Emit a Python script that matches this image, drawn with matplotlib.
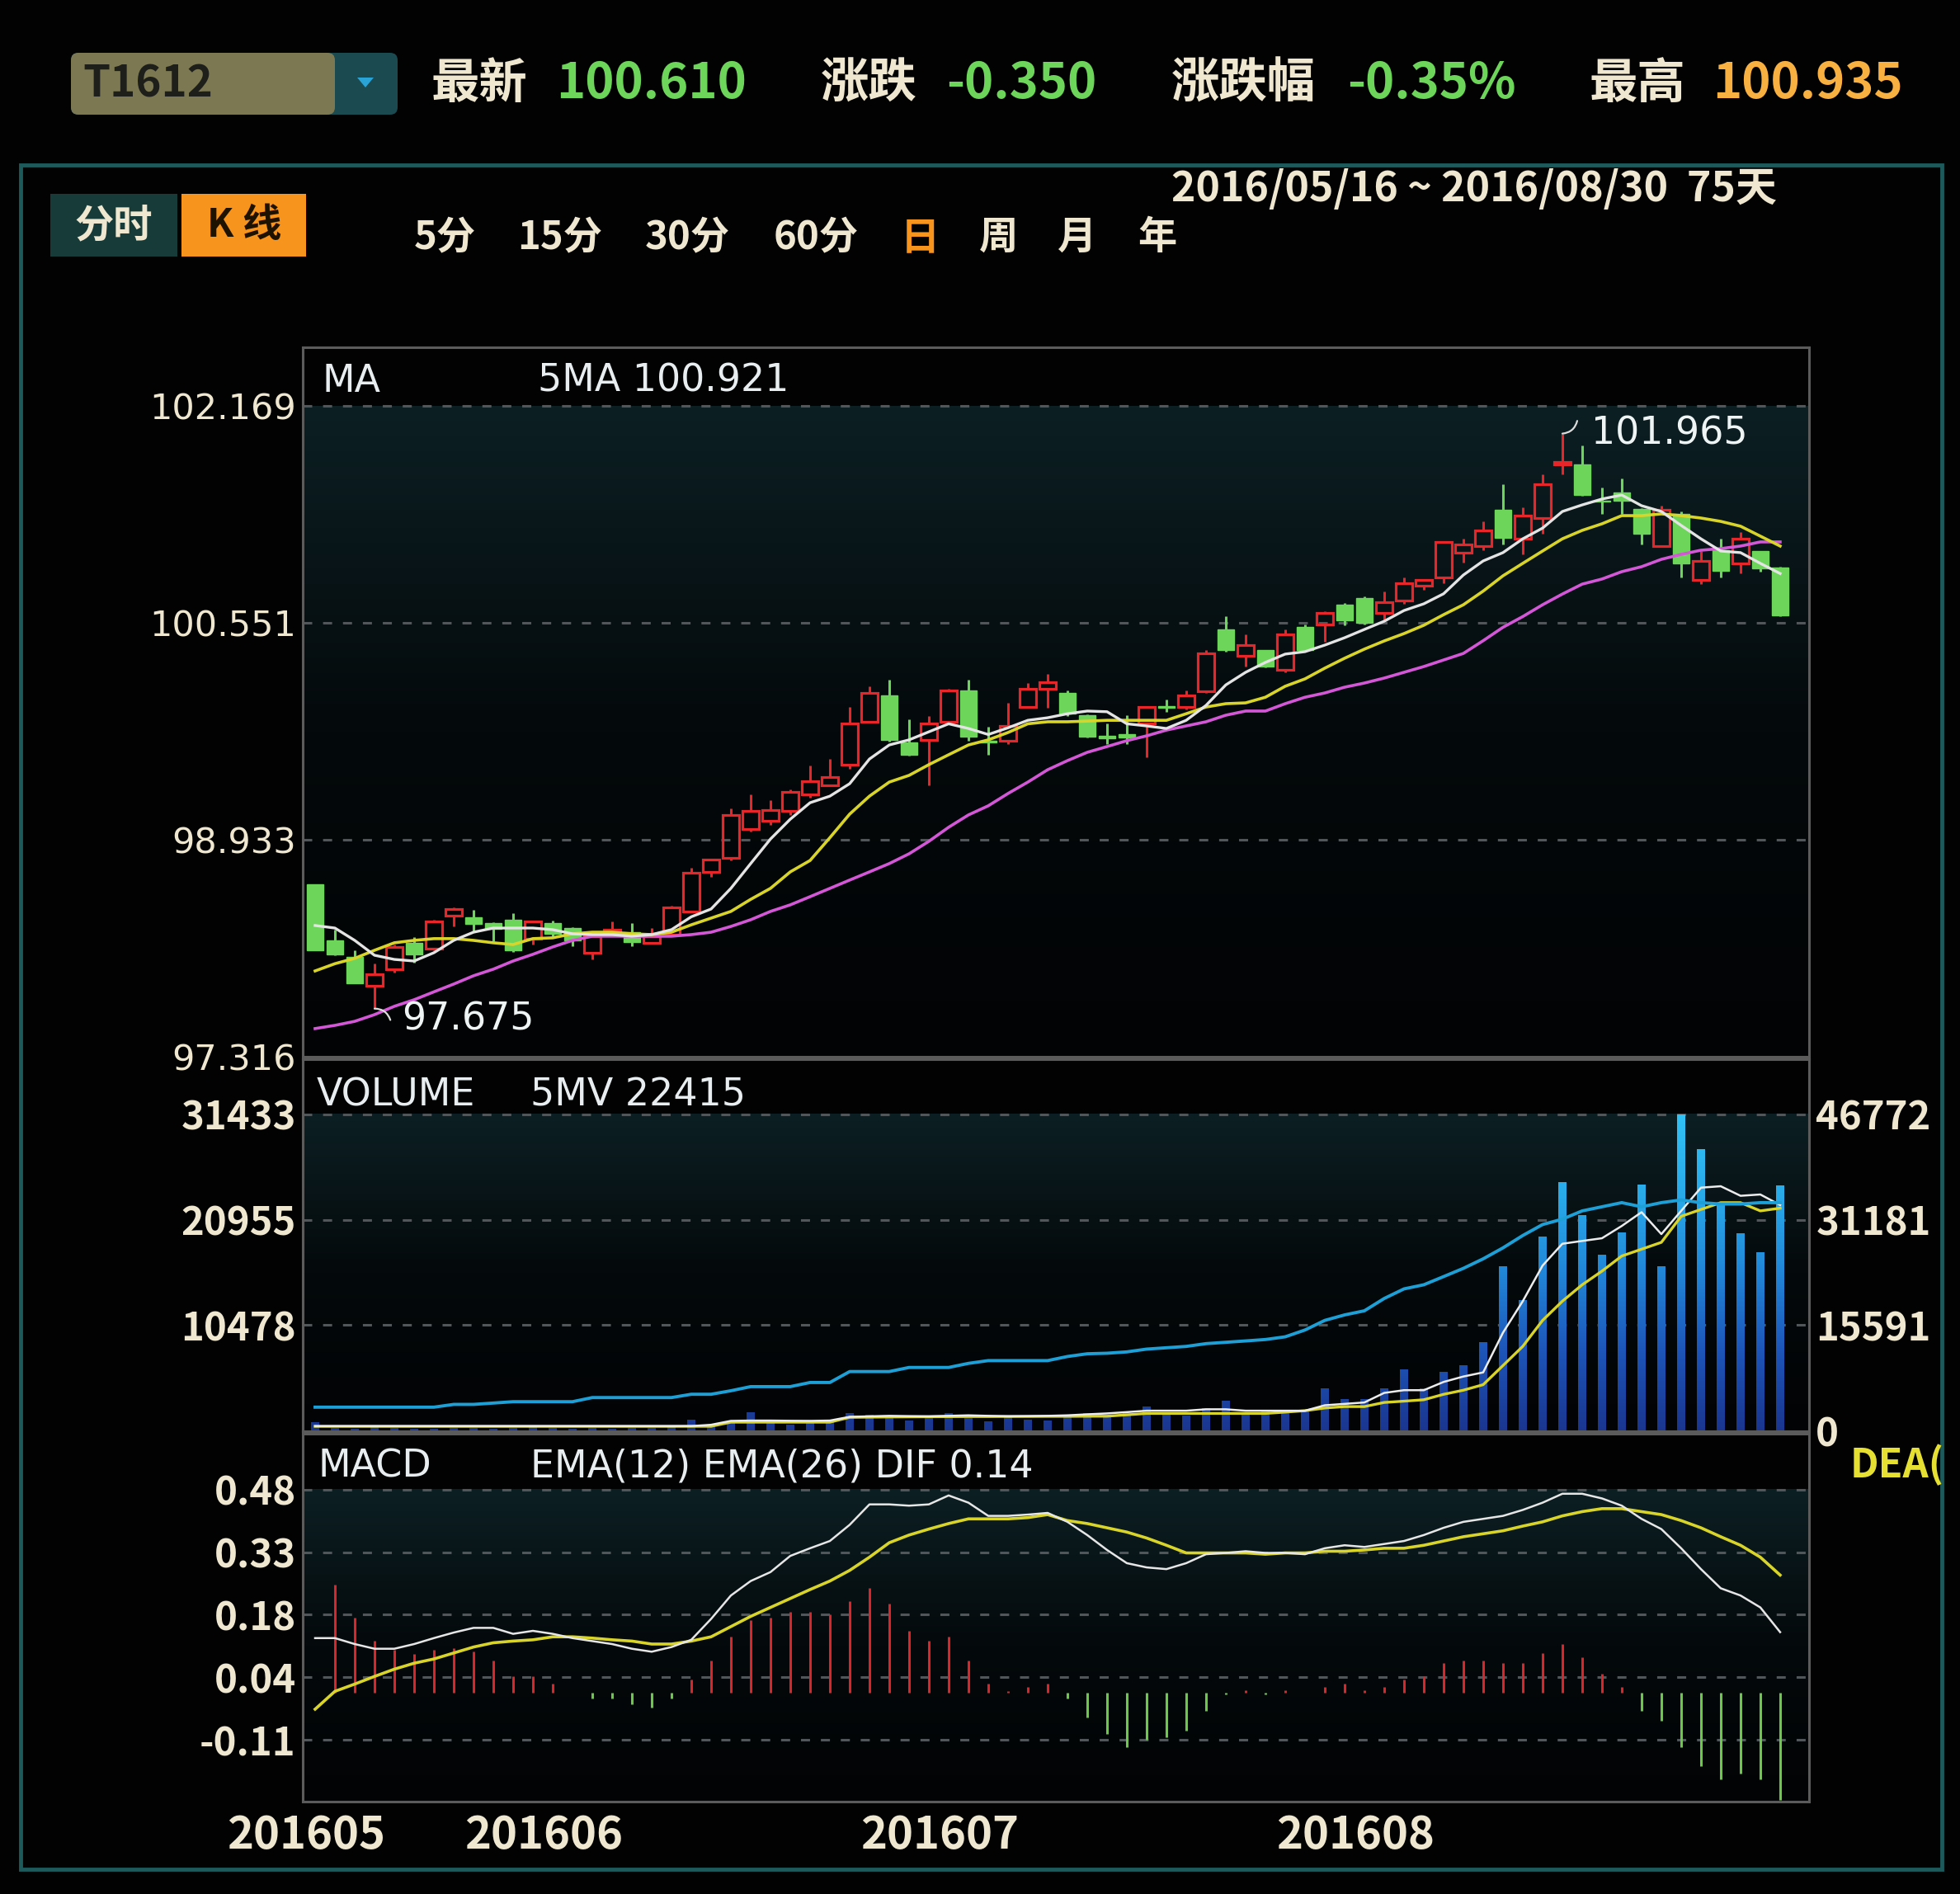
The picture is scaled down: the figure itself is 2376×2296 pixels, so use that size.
import numpy as np
import matplotlib
matplotlib.use("Agg")
import matplotlib.pyplot as plt
from matplotlib.patches import Rectangle, FancyBboxPatch, Polygon
from matplotlib.path import Path
from matplotlib.colors import LinearSegmentedColormap

plt.rcParams["font.family"] = ["Noto Sans CJK SC", "DejaVu Sans"]

# ---------------- data ----------------
open_ = [98.603, 98.184, 98.061, 97.846, 97.969, 98.166, 98.123, 98.369, 98.357, 98.310,
         98.338, 98.197, 98.310, 98.277, 98.092, 98.234, 98.246, 98.166, 98.227, 98.400,
         98.695, 98.800, 99.015, 99.077, 99.150, 99.274, 99.340, 99.495, 99.815, 100.012,
         99.661, 99.680, 99.815, 100.050, 99.674, 99.674, 99.925, 100.061, 100.030, 99.864,
         99.710, 99.720, 99.800, 99.930, 99.925, 100.043, 100.504, 100.306, 100.350, 100.200,
         100.520, 100.540, 100.690, 100.740, 100.627, 100.720, 100.830, 100.890, 101.077, 101.126,
         101.397, 101.180, 101.335, 101.735, 101.735, 101.464, 101.526, 101.403, 101.126, 101.366,
         100.874, 101.095, 100.997, 101.089, 100.966]
high = [98.603, 98.265, 98.110, 98.012, 98.150, 98.210, 98.340, 98.430, 98.412, 98.320,
        98.387, 98.330, 98.330, 98.280, 98.220, 98.326, 98.310, 98.277, 98.440, 98.726,
        98.790, 99.170, 99.274, 99.230, 99.310, 99.490, 99.540, 99.926, 100.080, 100.130,
        99.833, 99.858, 100.060, 100.130, 99.780, 99.957, 100.105, 100.170, 100.050, 99.870,
        99.800, 99.864, 99.930, 99.980, 100.050, 100.350, 100.600, 100.470, 100.350, 100.504,
        100.540, 100.640, 100.700, 100.750, 100.788, 100.890, 100.880, 101.160, 101.180, 101.310,
        101.587, 101.415, 101.661, 101.965, 101.876, 101.560, 101.630, 101.410, 101.427, 101.384,
        101.089, 101.180, 101.230, 101.090, 100.970]
low = [98.111, 98.074, 97.864, 97.675, 97.945, 98.020, 98.110, 98.290, 98.246, 98.180,
       98.100, 98.150, 98.215, 98.140, 98.040, 98.220, 98.140, 98.160, 98.220, 98.390,
       98.660, 98.780, 98.997, 99.046, 99.120, 99.250, 99.335, 99.465, 99.810, 99.670,
       99.560, 99.340, 99.800, 99.674, 99.569, 99.650, 99.920, 99.920, 99.860, 99.700,
       99.650, 99.650, 99.550, 99.890, 99.910, 100.030, 100.340, 100.230, 100.220, 100.185,
       100.340, 100.410, 100.535, 100.540, 100.566, 100.695, 100.800, 100.850, 101.003, 101.095,
       101.138, 101.064, 101.218, 101.661, 101.500, 101.366, 101.366, 101.138, 101.120, 100.890,
       100.843, 100.890, 100.920, 100.935, 100.603]
close = [98.111, 98.080, 97.864, 97.932, 98.135, 98.080, 98.326, 98.418, 98.308, 98.270,
         98.110, 98.326, 98.234, 98.184, 98.215, 98.264, 98.170, 98.215, 98.430, 98.689,
         98.787, 99.120, 99.150, 99.157, 99.292, 99.372, 99.403, 99.803, 100.030, 99.680,
         99.569, 99.800, 100.050, 99.705, 99.660, 99.784, 100.061, 100.110, 99.877, 99.705,
         99.690, 99.700, 99.925, 99.920, 100.010, 100.325, 100.350, 100.387, 100.230, 100.470,
         100.350, 100.630, 100.572, 100.553, 100.710, 100.850, 100.874, 101.157, 101.138, 101.244,
         101.187, 101.354, 101.587, 101.753, 101.507, 101.458, 101.464, 101.218, 101.397, 100.997,
         101.015, 100.940, 101.180, 100.960, 100.610]
ma5 = [98.295, 98.276, 98.184, 98.073, 98.042, 98.030, 98.092, 98.184, 98.245, 98.276,
       98.276, 98.276, 98.264, 98.233, 98.227, 98.227, 98.215, 98.227, 98.264, 98.360,
       98.418, 98.572, 98.757, 98.940, 99.088, 99.211, 99.260, 99.353, 99.537, 99.642,
       99.680, 99.740, 99.800, 99.765, 99.720, 99.770, 99.826, 99.845, 99.875, 99.895,
       99.890, 99.800, 99.784, 99.765, 99.826, 99.937, 100.090, 100.184, 100.258, 100.320,
       100.338, 100.387, 100.442, 100.504, 100.565, 100.645, 100.695, 100.770, 100.910, 101.015,
       101.077, 101.180, 101.260, 101.384, 101.433, 101.477, 101.507, 101.427, 101.384, 101.280,
       101.180, 101.089, 101.077, 100.997, 100.921]
ma10 = [97.956, 98.010, 98.050, 98.110, 98.166, 98.184, 98.197, 98.197, 98.184, 98.166,
        98.153, 98.197, 98.203, 98.233, 98.245, 98.245, 98.233, 98.227, 98.245, 98.300,
        98.350, 98.400, 98.490, 98.572, 98.695, 98.780, 98.950, 99.126, 99.260, 99.365,
        99.415, 99.495, 99.569, 99.642, 99.680, 99.735, 99.800, 99.815, 99.815, 99.820,
        99.826, 99.826, 99.826, 99.826, 99.875, 99.925, 99.950, 99.956, 99.998, 100.080,
        100.135, 100.215, 100.289, 100.357, 100.418, 100.473, 100.535, 100.614, 100.688, 100.790,
        100.904, 100.997, 101.089, 101.180, 101.243, 101.292, 101.353, 101.353, 101.366, 101.353,
        101.335, 101.310, 101.274, 101.200, 101.126]
ma20 = [97.526, 97.550, 97.580, 97.630, 97.692, 97.741, 97.800, 97.858, 97.920, 97.969,
        98.030, 98.080, 98.135, 98.184, 98.215, 98.215, 98.215, 98.215, 98.215, 98.227,
        98.245, 98.288, 98.338, 98.400, 98.449, 98.510, 98.572, 98.634, 98.695, 98.757,
        98.830, 98.923, 99.028, 99.120, 99.188, 99.280, 99.365, 99.457, 99.525, 99.587,
        99.630, 99.674, 99.710, 99.753, 99.784, 99.815, 99.864, 99.895, 99.895, 99.950,
        99.998, 100.030, 100.073, 100.104, 100.141, 100.184, 100.227, 100.276, 100.325, 100.420,
        100.520, 100.600, 100.688, 100.768, 100.842, 100.880, 100.935, 100.972, 101.027, 101.064,
        101.095, 101.107, 101.126, 101.157, 101.157]

volume = [800, 250, 200, 300, 250, 200, 180, 220, 260, 200,
          240, 300, 220, 180, 250, 200, 230, 260, 300, 1100,
          400, 900, 1800, 700, 600, 900, 800, 1700, 1600, 1300,
          1000, 1500, 1700, 1200, 900, 1300, 1100, 1000, 1400, 1700,
          1450, 1700, 2400, 1700, 1450, 2250, 2950, 1700, 2000, 2000,
          2000, 4150, 3100, 3100, 4150, 6050, 4150, 5800, 6450, 8800,
          16300, 13000, 19250, 24700, 21450, 17500, 19650, 24450, 16300, 31433,
          28000, 22460, 19600, 17690, 24330]
vol_ma5 = [420, 420, 420, 420, 420, 420, 420, 420, 420, 420,
           420, 420, 420, 420, 420, 420, 420, 420, 420, 430,
           560, 950, 980, 980, 960, 950, 980, 1350, 1400, 1450,
           1420, 1400, 1450, 1500, 1450, 1400, 1420, 1450, 1500, 1600,
           1690, 1820, 1960, 1960, 1960, 2100, 2100, 1960, 1960, 1960,
           1960, 2500, 2640, 2780, 3730, 4000, 4000, 4820, 5360, 5770,
           9720, 12850, 16390, 18560, 18840, 19110, 20330, 21700, 19520, 21830,
           24140, 24280, 23330, 23460, 22415]
vol_ma10 = [410, 410, 410, 410, 410, 410, 410, 410, 410, 410,
            410, 410, 410, 410, 410, 410, 410, 410, 410, 410,
            410, 820, 820, 820, 820, 820, 820, 1300, 1320, 1340,
            1350, 1360, 1370, 1380, 1380, 1390, 1390, 1400, 1400, 1410,
            1415, 1550, 1690, 1690, 1690, 1690, 1690, 1690, 1690, 1820,
            1960, 2230, 2370, 2370, 2780, 2910, 3050, 3590, 4000, 4550,
            6450, 8360, 10940, 12850, 14480, 15840, 17340, 18020, 18700, 21290,
            21970, 22650, 22650, 21830, 22100]
open_interest = [3440, 3440, 3440, 3440, 3440, 3440, 3440, 3850, 3850, 4050,
                 4250, 4250, 4250, 4250, 4860, 4860, 4860, 4860, 4860, 5350,
                 5350, 5870, 6480, 6480, 6480, 7090, 7090, 8710, 8710, 8710,
                 9315, 9315, 9315, 9920, 10330, 10330, 10330, 10330, 10935, 11340,
                 11420, 11620, 12030, 12230, 12430, 12840, 13040, 13240, 13450, 13850,
                 14860, 16280, 17090, 17700, 19520, 20940, 21550, 22760, 23980, 25390,
                 27010, 28840, 30460, 31260, 32480, 33090, 33700, 33090, 33700, 34100,
                 33700, 33500, 33500, 33700, 33700]

macd_hist = [0.0, 0.253, 0.176, 0.121, 0.100, 0.090, 0.100, 0.104, 0.097, 0.076,
             0.038, 0.038, 0.021, 0.0, -0.014, -0.014, -0.028, -0.035, -0.014, 0.031,
             0.076, 0.131, 0.170, 0.176, 0.190, 0.190, 0.183, 0.215, 0.246, 0.208,
             0.145, 0.121, 0.131, 0.076, 0.021, 0.004, 0.014, 0.021, -0.014, -0.059,
             -0.097, -0.128, -0.111, -0.104, -0.090, -0.042, -0.005, 0.005, -0.005, 0.005,
             0.0, 0.014, 0.021, 0.005, 0.014, 0.031, 0.038, 0.069, 0.076, 0.076,
             0.069, 0.069, 0.093, 0.114, 0.083, 0.045, 0.014, -0.042, -0.066, -0.128,
             -0.173, -0.204, -0.190, -0.204, -0.253]
dif = [0.128, 0.128, 0.114, 0.103, 0.103, 0.114, 0.128, 0.141, 0.152, 0.152,
       0.138, 0.145, 0.138, 0.128, 0.121, 0.114, 0.103, 0.096, 0.107, 0.124,
       0.173, 0.228, 0.262, 0.283, 0.321, 0.339, 0.356, 0.394, 0.442, 0.442,
       0.439, 0.442, 0.463, 0.446, 0.415, 0.415, 0.418, 0.422, 0.401, 0.370,
       0.335, 0.304, 0.294, 0.290, 0.304, 0.325, 0.328, 0.332, 0.328, 0.328,
       0.325, 0.339, 0.346, 0.342, 0.349, 0.356, 0.370, 0.387, 0.401, 0.408,
       0.415, 0.429, 0.446, 0.467, 0.467, 0.456, 0.439, 0.408, 0.384, 0.339,
       0.290, 0.245, 0.228, 0.200, 0.142]
dea = [-0.039, 0.003, 0.020, 0.038, 0.055, 0.069, 0.079, 0.093, 0.107, 0.117,
       0.121, 0.124, 0.131, 0.131, 0.128, 0.124, 0.121, 0.114, 0.114, 0.121,
       0.131, 0.155, 0.179, 0.200, 0.221, 0.242, 0.262, 0.287, 0.318, 0.352,
       0.370, 0.384, 0.397, 0.408, 0.408, 0.408, 0.411, 0.418, 0.404, 0.397,
       0.387, 0.377, 0.363, 0.346, 0.328, 0.328, 0.328, 0.328, 0.325, 0.328,
       0.328, 0.332, 0.332, 0.335, 0.339, 0.339, 0.346, 0.356, 0.366, 0.373,
       0.380, 0.391, 0.401, 0.415, 0.425, 0.432, 0.432, 0.425, 0.418, 0.404,
       0.387, 0.366, 0.346, 0.318, 0.276]

month_starts = [0, 12, 32, 53]
month_labels = ["201605", "201606", "201607", "201608"]
price_ticks = [97.316, 98.933, 100.551, 102.169]
vol_ticks = [10478, 20955, 31433]
oi_ticks = [0, 15591, 31181, 46772]
macd_ticks = [0.477, 0.330, 0.183, 0.036, -0.111]
macd_tick_labels = ["0.48", "0.33", "0.18", "0.04", "-0.11"]

header_names = ["最新", "涨跌", "涨跌幅", "最高"]
header_values = ["100.610", "-0.350", "-0.35%", "100.935"]
periods = ["5分", "15分", "30分", "60分", "日", "周", "月", "年"]

# ---------------- styling ----------------
W, H = 2376, 2296
CREAM = "#efe7cf"
GREEN = "#6dd65a"
RED = "#e8262a"
YELLOW = "#d9d42a"
ORANGE = "#f7941d"
GRID = "#50565a"
SPINE = "#5b5b5b"
bg_cmap = LinearSegmentedColormap.from_list("bg", ["#020304", "#04090b", "#0c1f23"])
vol_cmap = LinearSegmentedColormap.from_list(
    "vol", ["#1a3690", "#1d55b8", "#2186d8", "#29abea", "#31c2f6"])

fig = plt.figure(figsize=(W / 100, H / 100), dpi=100, facecolor="#020202")


def rect(l, t, r, b):
    return [l / W, 1 - b / H, (r - l) / W, (b - t) / H]


# overlay in pixel coordinates for the frame and header
ax_bg = fig.add_axes([0, 0, 1, 1])
ax_bg.set_xlim(0, W)
ax_bg.set_ylim(H, 0)
ax_bg.axis("off")

ax_bg.add_patch(Rectangle((25, 200), 2329, 2066, fill=False, edgecolor="#1c5a5c", lw=3.5))

# contract selector box
ax_bg.add_patch(FancyBboxPatch((86, 64), 396, 75, boxstyle="round,pad=0,rounding_size=9",
                               facecolor="#1b4a50", edgecolor="none"))
ax_bg.add_patch(FancyBboxPatch((86, 64), 320, 75, boxstyle="round,pad=0,rounding_size=9",
                               facecolor="#7b7852", edgecolor="none"))
ax_bg.add_patch(Polygon([[433, 94], [453, 94], [443, 106]], closed=True, facecolor="#2aa3d6"))
ax_bg.text(100, 102, "T1612", fontsize=38, fontweight="bold", color="#1e1e1a", va="center", ha="left")

name_x = [523, 995, 1420, 1927]
value_x = [674, 1147, 1633, 2076]
value_colors = [GREEN, GREEN, GREEN, "#f8b040"]
for nm, nx, val, vx, vc in zip(header_names, name_x, header_values, value_x, value_colors):
    ax_bg.text(nx, 102, nm, fontsize=42, fontweight="bold", color=CREAM, va="center", ha="left")
    ax_bg.text(vx, 102, val, fontsize=43, fontweight="bold", color=vc, va="center", ha="left")

# tabs
ax_bg.add_patch(Rectangle((61, 235), 154, 76, facecolor="#173b39", edgecolor="none"))
ax_bg.add_patch(Rectangle((220, 235), 151, 76, facecolor=ORANGE, edgecolor="none"))
ax_bg.text(138, 273, "分时", fontsize=34, fontweight="bold", color=CREAM, va="center", ha="center")
ax_bg.text(296, 273, "K 线", fontsize=34, fontweight="bold", color="#1e1200", va="center", ha="center")

period_x = [539, 679, 833, 989, 1115, 1211, 1306, 1403]
for p, px in zip(periods, period_x):
    ax_bg.text(px, 288, p, fontsize=34, fontweight="bold",
               color=ORANGE if p == "日" else CREAM, va="center", ha="center")

ax_bg.text(1420, 229, "2016/05/16 ~ 2016/08/30  75天", fontsize=36, fontweight="bold",
           color=CREAM, va="center", ha="left")
ax_bg.text(2243, 1776, "DEA(", fontsize=35, fontweight="bold", color="#e6e033", va="center", ha="left")

n = len(close)
x = np.arange(n)
xlim = (-0.625, 75.46)


def style_panel(ax, ylim, grid_vals, grid_top):
    ax.set_facecolor("#020202")
    ax.imshow(np.linspace(0, 1, 256).reshape(-1, 1),
              extent=(xlim[0], xlim[1], ylim[0], grid_top),
              origin="lower", aspect="auto", cmap=bg_cmap, zorder=0)
    for v in grid_vals:
        ax.axhline(v, color=GRID, lw=2.2, dashes=(3.6, 4.3), zorder=1)
    for s in ax.spines.values():
        s.set_color(SPINE)
        s.set_linewidth(2.2)
    ax.tick_params(length=0)


# ---------------- price panel ----------------
ax_p = fig.add_axes(rect(367, 421, 2193, 1281))
price_ylim = (price_ticks[0], 102.609)
style_panel(ax_p, price_ylim, price_ticks[1:], price_ticks[-1])

o, h, l, c = (np.array(a) for a in (open_, high, low, close))
up = c >= o
top = np.maximum(o, c)
bot = np.minimum(o, c)
col = np.where(up, RED, GREEN)
ax_p.vlines(x, top, h, colors=col, lw=2.2, zorder=3)
ax_p.vlines(x, l, bot, colors=col, lw=2.2, zorder=3)
ax_p.bar(x[up], (top - bot)[up], bottom=bot[up], width=0.8,
         facecolor="none", edgecolor=RED, linewidth=2.3, zorder=4)
ax_p.bar(x[~up], (top - bot)[~up], bottom=bot[~up], width=0.8,
         facecolor=GREEN, edgecolor=GREEN, linewidth=1.0, zorder=4)

ax_p.plot(x, ma20, color="#d457d8", lw=2.6, zorder=5)
ax_p.plot(x, ma10, color=YELLOW, lw=2.6, zorder=6)
ax_p.plot(x, ma5, color="#e4e4e4", lw=2.4, zorder=7)

i_lo = int(np.argmin(l))
i_hi = int(np.argmax(h))
ax_p.annotate("", xy=(i_lo, l[i_lo]), xytext=(i_lo + 0.8, l[i_lo] - 0.085),
              arrowprops=dict(arrowstyle="-", color="#dcdcdc", lw=1.6,
                              connectionstyle="arc3,rad=0.35", shrinkA=0, shrinkB=0), zorder=8)
ax_p.text(i_lo + 1.4, l[i_lo] - 0.08, f"{l[i_lo]:.3f}", fontsize=33, color="#eef3f3",
          family="DejaVu Sans", va="center", ha="left", zorder=8)
ax_p.annotate("", xy=(i_hi, h[i_hi]), xytext=(i_hi + 0.75, h[i_hi] + 0.095),
              arrowprops=dict(arrowstyle="-", color="#dcdcdc", lw=1.6,
                              connectionstyle="arc3,rad=-0.35", shrinkA=0, shrinkB=0), zorder=8)
ax_p.text(i_hi + 1.45, h[i_hi], f"{h[i_hi]:.3f}", fontsize=33, color="#eef3f3",
          family="DejaVu Sans", va="center", ha="left", zorder=8)

ax_p.text(0.013, 0.952, "MA", transform=ax_p.transAxes, fontsize=33, color="#e8eef0",
          family="DejaVu Sans", va="center", ha="left")
ax_p.text(0.156, 0.952, f"5MA {ma5[-1]:.3f}", transform=ax_p.transAxes, fontsize=33,
          color="#e8eef0", family="DejaVu Sans", va="center", ha="left")

ax_p.set_xlim(*xlim)
ax_p.set_ylim(*price_ylim)
ax_p.set_xticks([])
ax_p.set_yticks(price_ticks, [f"{v:.3f}" for v in price_ticks], fontsize=31,
                family="DejaVu Sans", color=CREAM)
ax_p.tick_params(axis="y", pad=6)

# ---------------- volume panel ----------------
ax_v = fig.add_axes(rect(367, 1284, 2193, 1735))
vol_ylim = (-80, 36913)
style_panel(ax_v, vol_ylim, vol_ticks, vol_ticks[-1])

bars = ax_v.bar(x, volume, width=0.42, color="none", edgecolor="none")
bar_path = Path.make_compound_path(
    *[b.get_path().transformed(b.get_patch_transform()) for b in bars])
im = ax_v.imshow(np.linspace(0, 1, 256).reshape(-1, 1),
                 extent=(xlim[0], xlim[1], 0, max(volume)),
                 origin="lower", aspect="auto", cmap=vol_cmap, zorder=2)
im.set_clip_path(bar_path, transform=ax_v.transData)

ax_v.plot(x, vol_ma10, color=YELLOW, lw=2.4, zorder=4)
ax_v.plot(x, vol_ma5, color="#ececec", lw=1.8, zorder=5)
ax_v.text(0.009, 0.903, "VOLUME", transform=ax_v.transAxes, fontsize=33, color="#e8eef0",
          family="DejaVu Sans", va="center", ha="left")
ax_v.text(0.151, 0.903, f"5MV {vol_ma5[-1]}", transform=ax_v.transAxes, fontsize=33,
          color="#e8eef0", family="DejaVu Sans", va="center", ha="left")
ax_v.set_xlim(*xlim)
ax_v.set_ylim(*vol_ylim)
ax_v.set_xticks([])
ax_v.set_yticks(vol_ticks, [str(v) for v in vol_ticks], fontsize=34, fontweight="bold", color=CREAM)
ax_v.tick_params(axis="y", pad=6)

ratio = oi_ticks[-1] / vol_ticks[-1]
ax_v2 = ax_v.twinx()
ax_v2.plot(x, open_interest, color="#1e9fd6", lw=2.8, zorder=3)
ax_v2.set_ylim(vol_ylim[0] * ratio, vol_ylim[1] * ratio)
ax_v2.set_xlim(*xlim)
ax_v2.set_yticks(oi_ticks, [str(v) for v in oi_ticks], fontsize=34, fontweight="bold", color=CREAM)
ax_v2.tick_params(length=0, pad=6)
for s in ax_v2.spines.values():
    s.set_color(SPINE)
    s.set_linewidth(2.2)

# ---------------- MACD panel ----------------
ax_m = fig.add_axes(rect(367, 1738, 2193, 2184))
macd_ylim = (-0.256, 0.608)
style_panel(ax_m, macd_ylim, macd_ticks, macd_ticks[0])
hist = np.array(macd_hist)
ax_m.vlines(x, 0, hist, colors=np.where(hist >= 0, "#d8262a", "#6cc848"), lw=2.2, zorder=3)
ax_m.plot(x, dea, color=YELLOW, lw=2.6, zorder=4)
ax_m.plot(x, dif, color="#e6e6e6", lw=1.8, zorder=5)
ax_m.text(0.010, 0.91, "MACD", transform=ax_m.transAxes, fontsize=33, color="#e8eef0",
          family="DejaVu Sans", va="center", ha="left")
ax_m.text(0.151, 0.91, f"EMA(12) EMA(26) DIF {dif[-1]:.2f}", transform=ax_m.transAxes,
          fontsize=33, color="#e8eef0", family="DejaVu Sans", va="center", ha="left")
ax_m.set_xlim(*xlim)
ax_m.set_ylim(*macd_ylim)
ax_m.set_yticks(macd_ticks, macd_tick_labels, fontsize=34, fontweight="bold", color=CREAM)
ax_m.set_xticks([m - 0.45 for m in month_starts], month_labels, fontsize=39,
                fontweight="bold", color=CREAM)
ax_m.tick_params(axis="y", pad=6)
ax_m.tick_params(axis="x", pad=10)

fig.savefig("out.png", dpi=100, facecolor=fig.get_facecolor())
